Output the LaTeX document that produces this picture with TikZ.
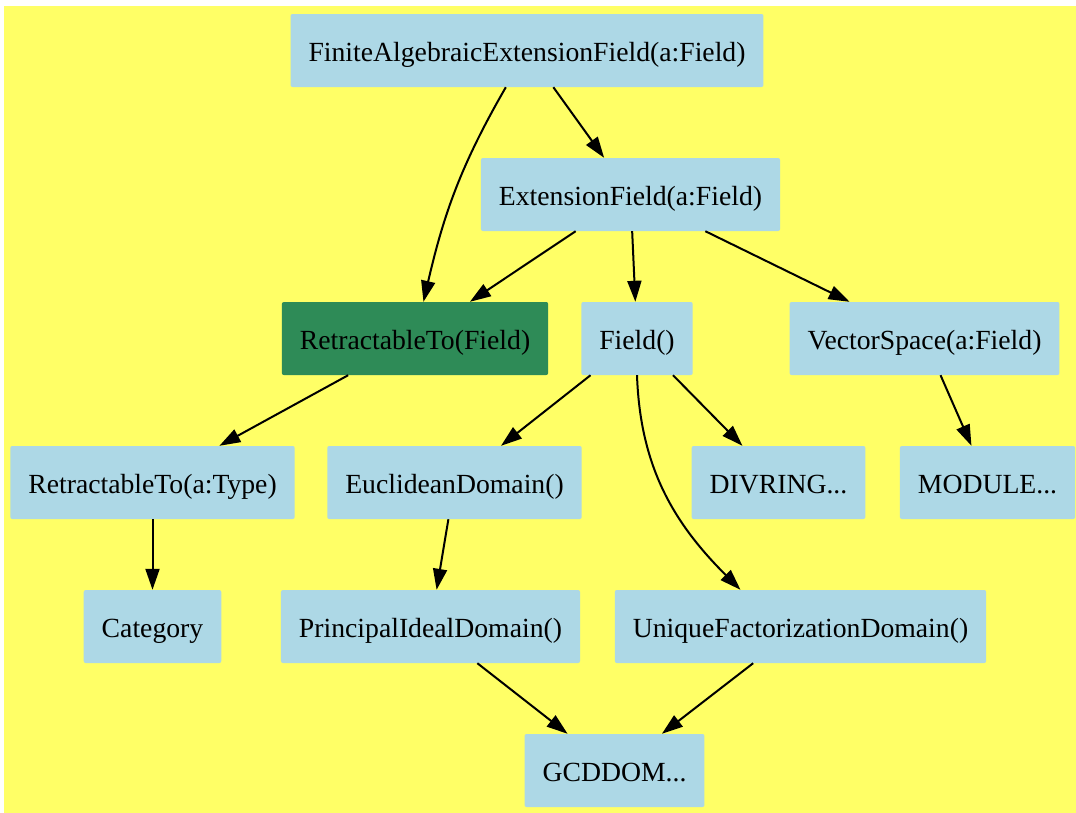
\documentclass[tikz,border=0pt]{standalone}
\usepackage{fontspec}
\setmainfont{Liberation Serif}
\usepackage{xcolor}
\usetikzlibrary{shapes,arrows.meta,positioning}
\definecolor{bgyellow}{RGB}{255,255,102}
\definecolor{boxblue}{RGB}{173,216,230}
\definecolor{boxgreen}{RGB}{46,139,87}

\begin{document}
\begin{tikzpicture}[node distance=144pt, auto,
    box/.style={rectangle, fill=boxblue, rounded corners=2pt, inner xsep=18pt, minimum height=73pt, text height=21pt, text depth=0pt, font=\fontsize{27.7}{33}\selectfont},
    link/.style={-{Triangle[length=21pt,width=14pt]}, line width=2pt}]
    \useasboundingbox (0,0) rectangle (1076pt,-812pt);
    \fill [white] (-4pt,4pt) rectangle (1080pt,-816pt);
    \fill [bgyellow] (4pt,-6pt) rectangle (1080pt,-816pt);

    \node [box] (faef) at (527pt,-50.5pt) {FiniteAlgebraicExtensionField(a:Field)};
    \node [box, below of=faef, xshift=103.5pt] (ef) {ExtensionField(a:Field)};
    \node [box, fill=boxgreen, below of=ef, xshift=-215.5pt] (rtf) {RetractableTo(Field)};
    \node [box, right of=rtf, node distance=222pt] (fld) {Field()};
    \node [box, right of=fld, node distance=287.5pt] (vs) {VectorSpace(a:Field)};
    \node [box, below of=rtf, xshift=-262.5pt] (rtt) {RetractableTo(a:Type)};
    \node [box, right of=rtt, node distance=302pt] (ed) {EuclideanDomain()};
    \node [box, right of=ed, node distance=324pt] (dvr) {DIVRING...};
    \node [box, right of=dvr, node distance=209pt] (mod) {MODULE...};
    \node [box, below of=rtt] (cat) {Category};
    \node [box, right of=cat, node distance=278pt] (pid) {PrincipalIdealDomain()};
    \node [box, right of=pid, node distance=370pt] (ufd) {UniqueFactorizationDomain()};
    \node [box, below of=pid, xshift=184pt] (gcd) {GCDDOM...};

    \draw [link] (faef) -- (ef);
    \draw [link] (faef) to [out=240, in=77] (rtf);
    \draw [link] (ef) -- (rtf);
    \draw [link] (ef) -- (fld);
    \draw [link] (ef) -- (vs);
    \draw [link] (rtf) -- (rtt);
    \draw [link] (fld) -- (ed);
    \draw [link] (fld) -- (dvr);
    \draw [link] (fld.south) to [out=-88, in=135] ([xshift=-60pt]ufd.north);
    \draw [link] (vs) -- (mod);
    \draw [link] (rtt) -- (cat);
    \draw [link] (ed) -- (pid);
    \draw [link] (pid) -- (gcd);
    \draw [link] (ufd) -- (gcd);
\end{tikzpicture}
\end{document}
